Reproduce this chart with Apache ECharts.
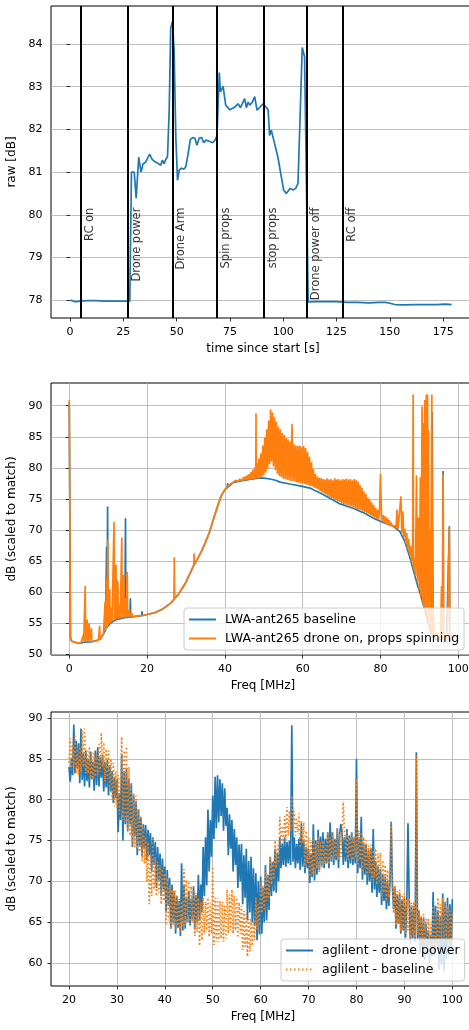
<!DOCTYPE html>
<html>
<head>
<meta charset="utf-8">
<script src="https://cdn.jsdelivr.net/npm/echarts@6/dist/echarts.min.js"></script>
<style>
  html, body { margin: 0; padding: 0; background: #fff; }
  #main { width: 469px; height: 1030px; }
</style>
</head>
<body>
<div id="main"></div>
<script>
// ---- panel 1: raw power vs time, [time s, raw dB]
const rawTrace = [
  [0, 78.00], [1, 77.99], [2, 77.97], [3, 77.97], [5, 77.98], [8, 77.99], [12, 77.99], [16, 77.98],
  [20, 77.98], [24, 77.98], [28.0, 77.98], [28.8, 81.0], [30.1, 81.0], [31.0, 80.39], [32.2, 81.35],
  [33.3, 81.0], [34.2, 81.19], [35.4, 81.23], [36.2, 81.25], [37.3, 81.42], [38.5, 81.3], [39.6, 81.25],
  [40.5, 81.27], [41.4, 81.2], [42.5, 81.16], [43.3, 81.28], [44.1, 81.2], [44.9, 81.3], [45.7, 81.36],
  [46.5, 82.45], [47.2, 84.37], [48.0, 84.52], [48.8, 83.86], [49.6, 81.82], [50.4, 80.81], [51.2, 81.05],
  [52.3, 81.09], [53.5, 81.07], [54.3, 81.13], [55.4, 81.44], [56.4, 81.76], [57.5, 81.81], [58.6, 81.79],
  [59.5, 81.63], [60.6, 81.8], [61.7, 81.81], [62.7, 81.69], [63.8, 81.75], [64.9, 81.73], [65.8, 81.75],
  [66.9, 81.69], [68.0, 81.75], [68.9, 81.85], [69.6, 81.82], [70.0, 83.33], [70.5, 82.88], [71.8, 83.01],
  [73.0, 82.57], [74.9, 82.46], [77.2, 82.52], [78.8, 82.6], [79.9, 82.51], [81.9, 82.72], [82.7, 82.51],
  [83.5, 82.64], [84.3, 82.57], [85.5, 82.64], [86.6, 82.77], [87.7, 82.45], [89.0, 82.52], [90.5, 82.6],
  [92.1, 82.51], [92.9, 82.46], [93.6, 81.86], [94.4, 81.98], [95.2, 81.82], [97.5, 81.35], [99.1, 80.89],
  [100.2, 80.58], [101.4, 80.5], [103.3, 80.62], [104.6, 80.58], [105.8, 80.62], [106.9, 80.73],
  [108.0, 82.45], [108.9, 83.92], [110.0, 83.7], [110.5, 83.66], [111.7, 77.96], [115, 77.97], [120, 77.97],
  [125, 77.97], [130, 77.95], [135, 77.95], [140, 77.94], [145, 77.95], [148, 77.95], [150, 77.93],
  [152.4, 77.9], [157, 77.89], [162, 77.9], [167, 77.9], [172, 77.9], [176, 77.91], [179, 77.9]
];
const eventTimes = [5, 27, 48, 69, 91, 111, 128];
const eventNames = ['RC on', 'Drone power', 'Drone Arm', 'Spin props', 'stop props', 'Drone power off', 'RC off'];
const timeTicks = [0, 25, 50, 75, 100, 125, 150, 175];
const rawTicks = [78, 79, 80, 81, 82, 83, 84];

// ---- panel 2: LWA spectra, [freq MHz, dB]
const lwaBaseline = [
  [0, 90.5], [0.3, 52.7], [0.6, 52.1], [1, 51.95], [2, 51.85], [3, 51.85], [4, 51.95], [5, 52.0],
  [6, 52.05], [7, 52.2], [8, 52.5], [8.8, 53.3], [9.3, 53.9], [9.6, 67.3], [9.7, 54.2], [9.85, 73.8],
  [9.95, 54.5], [10.5, 55.0], [11, 55.3], [12.1, 55.6], [12.2, 62.0], [12.3, 55.6], [14.3, 55.9],
  [14.45, 71.9], [14.55, 55.9], [15.6, 56.0], [15.7, 59.0], [15.8, 56.0], [17, 56.1], [18.6, 56.2],
  [18.7, 56.9], [18.8, 56.2], [20, 56.4], [22, 56.7], [24, 57.3], [26, 58.2], [27, 58.9], [28, 59.6],
  [29, 60.6], [30, 61.6], [31, 63.0], [32, 64.3], [33, 65.4], [34, 66.6], [35, 68.0], [36, 69.6],
  [37, 71.6], [38, 73.6], [39, 75.4], [40, 76.5], [40.6, 76.8], [40.7, 77.5], [40.8, 76.9], [41, 77.2],
  [42, 77.6], [44, 77.9], [46, 78.1], [48, 78.3], [49, 78.35], [50, 78.35], [51.6, 78.2], [53, 78.0],
  [54.2, 77.7], [56.7, 77.4], [59.3, 77.1], [61.9, 76.75], [63, 76.4], [64.4, 76.0], [67, 75.1],
  [69.6, 74.2], [73, 73.5], [75.6, 72.8], [78.2, 71.9], [80.7, 71.2], [83.3, 70.6], [85, 69.75],
  [86.3, 68.1], [87.6, 65.5], [88.9, 62.5], [89.5, 61.2], [90.2, 59.8], [91, 58.0], [91.4, 57.1],
  [91.8, 56.0], [91.9, 91.7], [92.0, 55.5], [92.5, 54.5], [93.0, 53.3], [93.3, 89.0], [93.5, 52.8],
  [94, 52.4], [95, 52.3], [96, 52.4], [96.1, 79.5], [96.2, 52.4], [97, 52.3], [97.7, 70.6], [97.8, 52.3],
  [98.5, 52.3]
];
const lwaDrone = [
  [0, 90.9], [0.3, 52.8], [0.6, 52.1], [1.0, 51.95], [2.0, 51.85], [3.0, 51.85], [3.5, 51.95],
  [3.6, 53.1], [3.7, 51.95], [4.0, 52.0], [4.1, 61.0], [4.2, 52.0], [4.6, 55.6], [4.7, 52.0], [5.1, 55.0],
  [5.2, 52.0], [5.7, 54.2], [5.8, 52.05], [6.5, 52.1], [7.0, 52.2], [7.5, 52.3], [7.8, 54.6], [7.9, 52.4],
  [8.3, 52.7], [8.8, 53.3], [9.2, 58.5], [9.3, 53.9], [9.6, 62.0], [9.7, 54.3], [9.9, 68.5], [10.0, 54.7],
  [10.4, 60.5], [10.5, 55.0], [10.9, 57.5], [11.0, 55.3], [11.5, 71.3], [11.6, 55.5], [12.0, 64.4],
  [12.1, 55.6], [12.5, 61.7], [12.6, 55.7], [13.0, 58.0], [13.1, 55.8], [13.5, 68.8], [13.6, 55.8],
  [14.0, 62.8], [14.1, 55.9], [14.5, 59.0], [14.6, 55.9], [14.9, 63.3], [15.0, 56.0], [15.5, 57.2],
  [15.6, 56.0], [16.2, 56.6], [16.3, 56.0], [17.0, 56.1], [18.0, 56.2], [20.0, 56.4], [22.0, 56.7],
  [24.0, 57.3], [26.0, 58.2], [26.9, 58.8], [27.0, 65.6], [27.1, 59.0], [28.0, 59.6], [29.0, 60.6],
  [30.0, 61.6], [31.0, 63.0], [32.0, 64.3], [32.1, 66.2], [32.2, 64.5], [33.0, 65.4], [34.0, 66.6],
  [35.0, 68.0], [36.0, 69.6], [37.0, 71.6], [38.0, 73.6], [39.0, 75.4], [40.0, 76.5], [41.0, 77.2],
  [42.00, 77.6], [42.25, 77.9], [42.50, 77.7], [42.75, 78.0], [43.00, 77.8], [43.25, 78.1], [43.50, 77.8],
  [43.75, 78.2], [44.00, 77.9], [44.25, 78.3], [44.50, 77.9], [44.75, 78.5], [45.00, 78.0], [45.25, 78.6],
  [45.50, 78.0], [45.75, 78.8], [46.00, 78.1], [46.25, 79.0], [46.50, 78.1], [46.75, 79.3], [47.00, 78.2],
  [47.25, 79.7], [47.50, 78.2], [47.75, 80.1], [47.95, 78.3], [48.00, 88.8], [48.05, 78.3], [48.25, 80.8],
  [48.50, 78.3], [48.75, 81.5], [49.00, 78.4], [49.25, 82.3], [49.50, 78.5], [49.75, 83.6], [50.00, 78.8],
  [50.25, 84.9], [50.50, 79.2], [50.75, 86.2], [51.00, 79.8], [51.25, 87.6], [51.50, 80.6], [51.75, 89.4],
  [52.00, 81.0], [52.25, 88.9], [52.50, 80.2], [52.75, 88.2], [53.00, 79.6], [53.25, 87.4], [53.50, 79.0],
  [53.75, 86.6], [54.00, 78.7], [54.25, 86.2], [54.50, 78.5], [54.75, 85.6], [55.00, 78.3], [55.25, 85.3],
  [55.50, 78.2], [55.75, 84.8], [56.00, 78.1], [56.25, 84.6], [56.50, 78.0], [56.75, 84.2], [57.00, 77.9],
  [57.25, 87.0], [57.50, 77.9], [57.75, 83.8], [58.00, 77.8], [58.25, 83.6], [58.50, 77.7], [58.75, 83.5],
  [59.00, 77.6], [59.25, 83.6], [59.50, 77.5], [59.75, 83.4], [60.00, 77.5], [60.25, 83.5], [60.50, 77.4],
  [60.75, 83.2], [61.00, 77.3], [61.25, 82.6], [61.50, 77.2], [61.75, 81.8], [62.00, 77.1], [62.25, 80.9],
  [62.50, 77.0], [62.75, 79.8], [63.00, 76.8], [63.25, 79.0], [63.50, 76.7], [63.75, 78.6], [64.00, 76.5],
  [64.25, 78.4], [64.50, 76.3], [64.75, 78.3], [65.00, 76.1], [65.25, 78.2], [65.50, 75.9], [65.75, 78.1],
  [66.00, 75.7], [66.25, 78.3], [66.50, 75.5], [66.75, 78.1], [67.00, 75.3], [67.25, 78.2], [67.50, 75.1],
  [67.75, 78.0], [68.00, 74.9], [68.25, 78.3], [68.50, 74.8], [68.75, 78.1], [69.00, 74.6], [69.25, 78.2],
  [69.50, 74.5], [69.75, 78.0], [70.00, 74.3], [70.25, 78.2], [70.50, 74.2], [70.75, 78.1], [71.00, 74.1],
  [71.25, 78.3], [71.50, 74.0], [71.75, 78.1], [72.00, 73.9], [72.25, 78.2], [72.50, 73.8], [72.75, 78.0],
  [73.00, 73.7], [73.25, 78.2], [73.50, 73.5], [73.75, 78.0], [74.00, 73.4], [74.25, 77.8], [74.50, 73.3],
  [74.75, 77.2], [75.00, 73.2], [75.25, 76.8], [75.50, 73.0], [75.75, 76.2], [76.00, 72.9], [76.25, 75.8],
  [76.50, 72.7], [76.75, 75.2], [77.00, 72.6], [77.25, 74.9], [77.50, 72.4], [77.75, 74.4], [78.00, 72.2],
  [78.25, 74.0], [78.50, 72.0], [78.75, 73.6], [79.00, 71.8], [79.25, 73.3], [79.50, 71.6], [79.75, 73.0],
  [80.00, 79.0], [80.25, 72.7], [80.50, 71.3], [80.75, 72.4], [81.00, 71.1], [81.25, 72.2], [81.50, 71.0],
  [81.75, 71.9], [82.00, 70.8], [82.25, 71.6], [82.50, 70.7], [82.75, 71.2], [83.00, 70.6], [83.25, 70.9],
  [83.50, 70.5], [83.75, 70.7], [84.00, 70.3], [84.25, 73.3], [84.50, 70.1], [84.75, 70.3], [85.00, 69.9],
  [85.25, 75.4], [85.50, 69.5], [85.75, 73.0], [86.00, 68.9], [86.25, 70.2], [86.50, 67.9], [86.75, 69.5],
  [87.00, 66.9], [87.25, 68.6], [87.50, 65.9], [87.75, 67.5], [88.00, 64.8], [88.25, 66.3], [88.40, 91.8],
  [88.50, 63.6], [88.75, 65.5], [89.00, 62.6], [89.25, 78.8], [89.50, 61.7], [89.75, 72.0], [90.00, 60.3],
  [90.25, 78.5], [90.40, 59.3], [90.70, 89.9], [90.85, 58.3], [91.00, 87.2], [91.15, 57.6], [91.40, 90.9],
  [91.55, 56.8], [91.80, 91.8], [91.95, 56.0], [92.10, 91.8], [92.25, 55.4], [92.35, 86.1], [92.50, 54.6],
  [92.70, 70.0], [92.85, 53.6], [93.20, 91.8], [93.40, 53.0], [93.70, 55.5], [94.00, 52.6], [94.50, 53.5],
  [95.00, 52.3], [95.40, 53.0], [95.70, 61.0], [95.85, 52.3], [96.10, 79.0], [96.25, 52.3], [96.70, 53.2],
  [97.20, 52.2], [97.70, 70.4], [97.85, 52.4], [98.20, 53.4], [98.50, 52.3]
];
const lwaFreqTicks = [0, 20, 40, 60, 80, 100];
const lwaDbTicks = [50, 55, 60, 65, 70, 75, 80, 85, 90];

// ---- panel 3: agilent spectra, one value every 0.25 MHz from 20 MHz (4 per group)
const aglFreqStart = 20;
const aglFreqStep = 0.25;
const aglDronePower = [
  84.0, 82.2, 85.0, 83.0,  89.2, 83.2, 87.2, 83.8,  86.9, 82.0, 88.7, 82.4,  85.6, 81.6, 86.0, 82.3,
  85.0, 81.5, 85.9, 82.5,  84.6, 81.1, 86.0, 81.8,  86.4, 81.6, 85.2, 82.7,  85.5, 81.0, 84.6, 81.5,
  84.9, 80.5, 84.2, 81.0,  83.5, 79.6, 82.8, 80.2,  82.5, 76.0, 80.8, 77.5,  85.6, 75.0, 83.5, 77.0,
  83.9, 76.2, 82.6, 77.0,  82.0, 74.2, 80.5, 75.5,  79.8, 73.2, 78.8, 74.3,  77.9, 73.1, 77.0, 74.0,
  76.9, 72.6, 76.3, 73.2,  75.9, 71.2, 75.4, 72.0,  74.8, 69.2, 74.2, 70.2,  73.4, 68.2, 72.8, 69.0,
  71.8, 66.2, 71.4, 67.0,  70.4, 64.2, 69.6, 65.0,  68.8, 63.6, 68.2, 64.3,  67.6, 63.3, 72.2, 64.0,
  69.6, 64.2, 68.0, 65.0,  68.8, 64.6, 67.9, 65.2,  69.4, 64.1, 68.3, 65.0,  70.8, 65.2, 69.6, 66.2,
  74.2, 68.2, 75.4, 69.5,  78.8, 71.2, 77.5, 73.0,  80.5, 75.2, 82.8, 76.5,  83.0, 77.2, 82.5, 78.0,
  82.0, 76.2, 81.4, 76.8,  79.0, 73.2, 78.2, 74.0,  77.5, 71.2, 76.4, 72.0,  75.4, 69.2, 74.5, 70.0,
  74.6, 67.2, 73.2, 68.0,  74.0, 65.2, 72.5, 66.2,  73.0, 65.0, 71.6, 64.5,  71.0, 62.8, 70.0, 63.5,
  70.6, 63.6, 69.2, 65.0,  72.0, 65.2, 70.8, 66.5,  73.0, 68.2, 72.4, 68.8,  74.0, 68.6, 73.5, 70.0,
  75.4, 71.6, 74.6, 72.0,  75.4, 71.8, 74.8, 72.2,  75.0, 72.0, 89.1, 72.4,  75.4, 71.6, 74.6, 72.2,
  75.2, 71.4, 77.1, 71.8,  75.0, 71.0, 74.2, 71.6,  74.0, 69.8, 73.4, 70.5,  77.0, 70.1, 75.0, 70.8,
  76.3, 71.4, 75.5, 72.0,  76.0, 71.6, 75.2, 72.2,  76.0, 71.6, 77.2, 72.4,  76.0, 72.0, 75.2, 72.6,
  76.5, 71.6, 75.8, 77.0,  76.0, 72.0, 75.4, 72.4,  76.4, 71.6, 75.6, 72.2,  76.0, 72.0, 75.4, 72.2,
  85.0, 71.0, 75.2, 71.6,  77.9, 70.2, 74.6, 70.8,  74.5, 69.6, 73.8, 70.0,  74.0, 68.6, 76.4, 69.0,
  72.5, 68.1, 71.8, 68.6,  71.5, 67.1, 70.8, 67.6,  70.6, 66.6, 70.0, 67.0,  70.0, 77.3, 69.4, 66.6,
  69.3, 64.2, 68.4, 64.8,  68.5, 63.6, 67.8, 64.0,  68.0, 63.1, 67.2, 77.1,  68.0, 62.4, 67.0, 63.0,
  67.0, 62.6, 85.8, 63.0,  66.5, 61.1, 65.6, 61.8,  65.5, 60.4, 64.8, 61.0,  64.0, 60.0, 63.5, 60.8,
  68.7, 61.0, 67.0, 61.6,  66.5, 59.2, 65.8, 59.8,  68.5, 59.0, 67.5, 60.5,  68.0, 61.0, 67.2, 61.6,
  67.8
];
const aglBaseline = [
  84.5, 87.5, 83.6, 86.8,  84.0, 87.8, 83.2, 86.5,  83.0, 86.5, 83.4, 88.5,  84.0, 88.7, 83.2, 86.0,
  83.2, 86.5, 82.6, 85.8,  82.5, 85.8, 82.8, 85.5,  83.0, 86.8, 83.4, 88.2,  84.0, 87.0, 82.2, 86.2,
  82.5, 86.0, 81.2, 85.0,  80.0, 84.5, 79.2, 83.5,  79.0, 83.0, 78.2, 82.0,  87.7, 77.5, 86.0, 77.2,
  86.5, 76.0, 84.0, 75.6,  82.0, 74.5, 80.8, 74.2,  80.5, 74.0, 79.0, 73.6,  78.0, 72.5, 77.0, 72.2,
  75.5, 70.0, 74.8, 67.2,  73.5, 68.2, 75.4, 69.0,  73.0, 68.2, 72.4, 68.6,  72.0, 67.2, 71.5, 67.6,
  71.0, 64.6, 70.4, 65.2,  69.5, 64.2, 69.0, 64.6,  69.0, 64.0, 68.4, 64.3,  68.0, 63.9, 67.6, 64.5,
  71.5, 64.6, 70.2, 65.0,  70.0, 64.6, 69.4, 65.0,  69.5, 63.3, 68.6, 63.8,  68.0, 62.1, 67.4, 62.8,
  68.0, 63.6, 67.5, 64.0,  68.0, 63.2, 67.4, 63.6,  71.8, 62.2, 68.0, 62.6,  68.0, 62.6, 67.6, 63.0,
  67.5, 62.6, 67.0, 63.0,  69.0, 63.6, 68.4, 64.0,  69.0, 63.6, 68.2, 64.0,  68.0, 63.1, 67.4, 63.6,
  67.0, 61.6, 66.4, 62.0,  66.0, 60.8, 65.4, 61.4,  65.5, 62.1, 64.8, 62.8,  68.0, 64.1, 67.2, 64.6,
  70.0, 66.1, 69.4, 66.6,  71.5, 67.6, 70.8, 68.0,  73.0, 69.6, 72.4, 70.2,  75.0, 71.6, 74.4, 72.2,
  77.9, 74.1, 76.8, 74.6,  78.0, 75.1, 79.1, 75.6,  78.6, 76.1, 80.5, 76.5,  78.6, 75.6, 77.8, 76.0,
  78.3, 74.1, 77.5, 74.6,  77.2, 71.6, 76.2, 72.2,  75.5, 70.6, 74.8, 71.0,  75.5, 71.1, 74.6, 71.6,
  75.5, 71.1, 74.8, 71.6,  75.0, 72.1, 74.4, 72.4,  76.0, 72.1, 75.4, 72.6,  76.0, 72.6, 75.2, 73.0,
  76.5, 72.6, 75.8, 73.0,  76.0, 79.7, 76.0, 73.4,  76.0, 72.6, 75.4, 73.0,  76.0, 72.6, 75.4, 73.0,
  82.5, 72.1, 76.2, 72.6,  76.0, 71.1, 75.4, 71.6,  75.0, 70.6, 74.4, 71.0,  74.5, 70.1, 73.8, 70.5,
  74.0, 69.6, 73.4, 70.0,  73.5, 68.1, 72.6, 68.6,  72.0, 67.6, 71.4, 68.0,  71.0, 77.1, 70.4, 66.1,
  69.5, 64.6, 68.8, 65.0,  69.0, 63.9, 68.4, 64.2,  68.5, 63.6, 67.8, 64.0,  68.0, 63.1, 67.4, 63.5,
  67.5, 63.1, 85.4, 63.4,  66.5, 62.1, 65.8, 62.6,  66.0, 60.9, 65.4, 61.4,  65.5, 61.1, 64.8, 61.6,
  67.0, 61.1, 66.2, 61.6,  68.0, 62.1, 67.2, 62.6,  68.0, 62.6, 67.4, 63.0,  67.0, 62.1, 66.4, 62.5,
  66.0
];
const aglFreqTicks = [20, 30, 40, 50, 60, 70, 80, 90, 100];
const aglDbTicks = [60, 65, 70, 75, 80, 85, 90];

const BLUE = '#1f77b4';
const ORANGE = '#ff7f0e';
const tickFont = { fontFamily: 'DejaVu Sans', fontSize: 11, color: '#000' };
const textFont = { fontFamily: 'DejaVu Sans', fontSize: 12, color: '#000' };

function xAxis (gridIndex, min, max, ticks, name, vgrid) {
  return {
    type: 'value', gridIndex, min, max,
    name, nameLocation: 'middle', nameGap: 25, nameTextStyle: textFont,
    axisLine: { show: false },
    axisTick: { show: true, length: 3.5, customValues: ticks, lineStyle: { color: '#000', width: 0.8 } },
    axisLabel: Object.assign({ margin: 8.5, customValues: ticks }, tickFont),
    splitLine: { show: vgrid, lineStyle: { color: '#b0b0b0', width: 0.8 } }
  };
}
function yAxis (gridIndex, min, max, ticks, name) {
  return {
    type: 'value', gridIndex, min, max,
    name, nameLocation: 'middle', nameGap: 30, nameTextStyle: textFont,
    axisLine: { show: false },
    axisTick: { show: true, length: 3.5, customValues: ticks, lineStyle: { color: '#000', width: 0.8 } },
    axisLabel: Object.assign({ margin: 8.5, customValues: ticks }, tickFont),
    splitLine: { show: true, lineStyle: { color: '#b0b0b0', width: 0.8 } }
  };
}
function line (name, data, xi, color, extra) {
  return Object.assign({
    name, type: 'line', data, xAxisIndex: xi, yAxisIndex: xi,
    symbol: 'none', showSymbol: false, animation: false,
    lineStyle: { color, width: 1.7 }, itemStyle: { color }
  }, extra || {});
}
function legend (names, left, top) {
  return {
    data: names, left, top, orient: 'vertical',
    itemWidth: 27, itemHeight: 12, itemGap: 6, padding: [5, 5, 5, 4],
    itemStyle: { opacity: 0 },
    backgroundColor: 'rgba(255,255,255,0.8)', borderColor: '#cccccc', borderWidth: 1, borderRadius: 3,
    textStyle: Object.assign({}, textFont, { fontSize: 12.5, padding: [0, 0, 0, 4] })
  };
}

const gridBox = { show: true, borderColor: '#000', borderWidth: 1, backgroundColor: 'transparent', outerBoundsMode: 'none' };
const aglFreq = aglDronePower.map((v, i) => aglFreqStart + i * aglFreqStep);

const chart = echarts.init(document.getElementById('main'), null, { renderer: 'canvas' });
chart.setOption({
  animation: false,
  textStyle: { fontFamily: 'DejaVu Sans' },
  grid: [
    Object.assign({ left: 51, top: 6, width: 424, height: 312 }, gridBox),
    Object.assign({ left: 51, top: 383, width: 424, height: 272 }, gridBox),
    Object.assign({ left: 51, top: 712, width: 424, height: 274 }, gridBox)
  ],
  xAxis: [
    xAxis(0, -8.95, 189.95, timeTicks, 'time since start [s]', false),
    xAxis(1, -4.7, 104.3, lwaFreqTicks, 'Freq [MHz]', true),
    xAxis(2, 16.24, 104.74, aglFreqTicks, 'Freq [MHz]', true)
  ],
  yAxis: [
    yAxis(0, 77.585, 84.89, rawTicks, 'raw [dB]'),
    yAxis(1, 49.89, 93.65, lwaDbTicks, 'dB (scaled to match)'),
    yAxis(2, 57.19, 90.73, aglDbTicks, 'dB (scaled to match)')
  ],
  legend: [
    legend(['LWA-ant265 baseline', 'LWA-ant265 drone on, props spinning'], 184, 608),
    legend(['aglilent - drone power', 'aglilent - baseline'], 281, 939)
  ],
  series: [
    line('raw', rawTrace, 0, BLUE, {
      markLine: {
        silent: true, symbol: 'none', animation: false,
        lineStyle: { color: '#000', width: 2, type: 'solid' },
        label: { show: false },
        data: eventTimes.map(t => ({ xAxis: t }))
      }
    }),
    {
      type: 'scatter', xAxisIndex: 0, yAxisIndex: 0, symbolSize: 0, silent: true,
      data: eventTimes.map((t, i) => ({ name: eventNames[i], value: [t, 80.17] })),
      label: Object.assign({
        show: true, formatter: '{b}', position: 'right', distance: 3,
        rotate: 90, align: 'right', verticalAlign: 'top'
      }, textFont, { fontSize: 11.5 })
    },
    line('LWA-ant265 baseline', lwaBaseline, 1, BLUE),
    line('LWA-ant265 drone on, props spinning', lwaDrone, 1, ORANGE),
    line('aglilent - drone power', aglFreq.map((f, i) => [f, aglDronePower[i]]), 2, BLUE),
    line('aglilent - baseline', aglFreq.map((f, i) => [f, aglBaseline[i]]), 2, ORANGE, {
      lineStyle: { color: ORANGE, width: 1.7, type: [1.5, 2.5] }
    })
  ]
});
</script>
</body>
</html>
